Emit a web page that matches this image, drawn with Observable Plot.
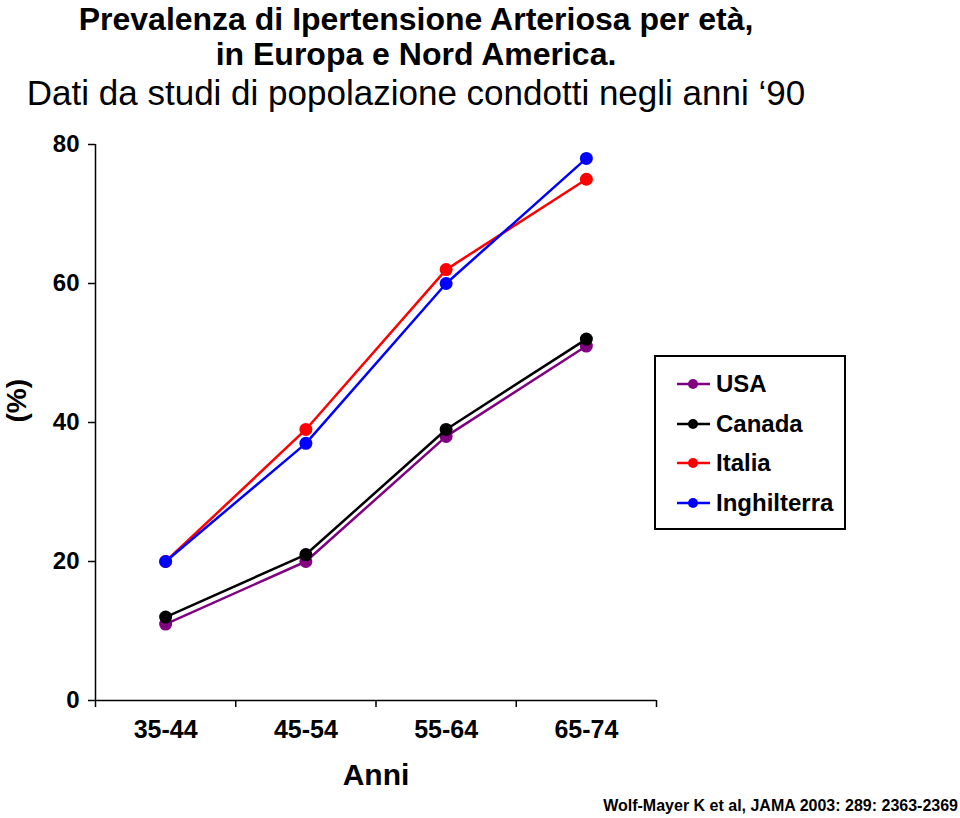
<!DOCTYPE html>
<html>
<head>
<meta charset="utf-8">
<script src="https://cdn.jsdelivr.net/npm/d3@7"></script>
<script src="https://cdn.jsdelivr.net/npm/@observablehq/plot@0.6"></script>
<style>
  html, body { margin: 0; padding: 0; background: #fff; }
  #page { position: relative; width: 960px; height: 818px; overflow: hidden; font-family: "Liberation Sans", Arial, Helvetica, sans-serif; color: #000; }
  #chart { position: absolute; left: 0; top: 0; }
  .t { position: absolute; left: 0; width: 832px; text-align: center; white-space: nowrap; }
  #t1 { top: 2px; font-size: 32px; line-height: 34px; font-weight: bold; }
  #t2 { top: 37px; font-size: 32px; line-height: 34px; font-weight: bold; }
  #t3 { top: 74px; font-size: 35px; line-height: 37px; font-weight: normal; }
  #caption { position: absolute; right: 2px; top: 797px; font-size: 16px; line-height: 18px; font-weight: bold; white-space: nowrap; }
  #legend { position: absolute; left: 654px; top: 355px; width: 192px; height: 175px; box-sizing: border-box; border: 2px solid #000; background: #fff; }
  .entry { position: absolute; left: 20px; height: 30px; display: flex; align-items: center; font-size: 24px; font-weight: bold; }
  .entry svg { margin-right: 4px; }
</style>
</head>
<body>
<div id="page">
  <div id="chart"></div>
  <div class="t" id="t1">Prevalenza di Ipertensione Arteriosa per età,</div>
  <div class="t" id="t2">in Europa e Nord America.</div>
  <div class="t" id="t3">Dati da studi di popolazione condotti negli anni ‘90</div>
  <div id="legend"></div>
  <div id="caption">Wolf-Mayer K et al, JAMA 2003: 289: 2363-2369</div>
</div>
<script>
// ---- data ----
const ages = ["35-44", "45-54", "55-64", "65-74"];
const usa = [11, 20, 38, 51];
const canada = [12, 21, 39, 52];
const italia = [20, 39, 62, 75];
const inghilterra = [20, 37, 60, 78];
const seriesNames = ["USA", "Canada", "Italia", "Inghilterra"];
const seriesColors = ["#800080", "#000000", "#ff0000", "#0000ff"];
const yTicks = [0, 20, 40, 60, 80];

const seriesValues = [usa, canada, italia, inghilterra];
const data = seriesNames.flatMap((name, si) =>
  seriesValues[si].map((v, i) => ({ series: name, age: ages[i], value: v }))
);
const xPos = d => ages.indexOf(d.age) + 0.5;

const chart = Plot.plot({
  width: 960,
  height: 818,
  marginTop: 144,
  marginBottom: 118,
  marginLeft: 95,
  marginRight: 304,
  style: { fontFamily: '"Liberation Sans", Arial, Helvetica, sans-serif', color: "#000", background: "transparent", overflow: "visible" },
  x: { domain: [0, ages.length] },
  y: { domain: [0, 80] },
  color: { domain: seriesNames, range: seriesColors },
  marks: [
    Plot.ruleX([0], { stroke: "#000", strokeWidth: 1.5 }),
    Plot.ruleY([0], { stroke: "#000", strokeWidth: 1.5 }),
    Plot.axisY({ ticks: yTicks, tickSize: 7, tickPadding: 9, fontSize: 24, fontWeight: "bold", label: null, strokeWidth: 1.5 }),
    Plot.axisX({ ticks: d3.range(ages.length + 1), tickSize: 7, tickFormat: () => "", label: null, strokeWidth: 1.5 }),
    Plot.axisX({ ticks: ages.map((a, i) => i + 0.5), tickSize: 0, tickPadding: 20, tickFormat: v => ages[Math.floor(v)], fontSize: 25, fontWeight: "bold", label: null }),
    ...seriesNames.flatMap(name => [
      Plot.line(data.filter(d => d.series === name), { x: xPos, y: "value", stroke: "series", strokeWidth: 2.5 }),
      Plot.dot(data.filter(d => d.series === name), { x: xPos, y: "value", fill: "series", r: 6.5 })
    ]),
    Plot.text(["(%)"], { frameAnchor: "left", dx: -78, rotate: -90, fontSize: 28, fontWeight: "bold", fill: "#000" }),
    Plot.text(["Anni"], { frameAnchor: "bottom", dy: 75, lineAnchor: "middle", fontSize: 30, fontWeight: "bold", fill: "#000" })
  ]
});
document.getElementById("chart").appendChild(chart);

// ---- legend ----
const legend = document.getElementById("legend");
seriesNames.forEach((name, i) => {
  const e = document.createElement("div");
  e.className = "entry";
  e.style.top = (12 + i * 39.5) + "px";
  e.innerHTML = `<svg width="36" height="14"><line x1="1" y1="7" x2="34" y2="7" stroke="${seriesColors[i]}" stroke-width="2.5"/><circle cx="17" cy="7" r="5" fill="${seriesColors[i]}"/></svg><span>${name}</span>`;
  legend.appendChild(e);
});
</script>
</body>
</html>
